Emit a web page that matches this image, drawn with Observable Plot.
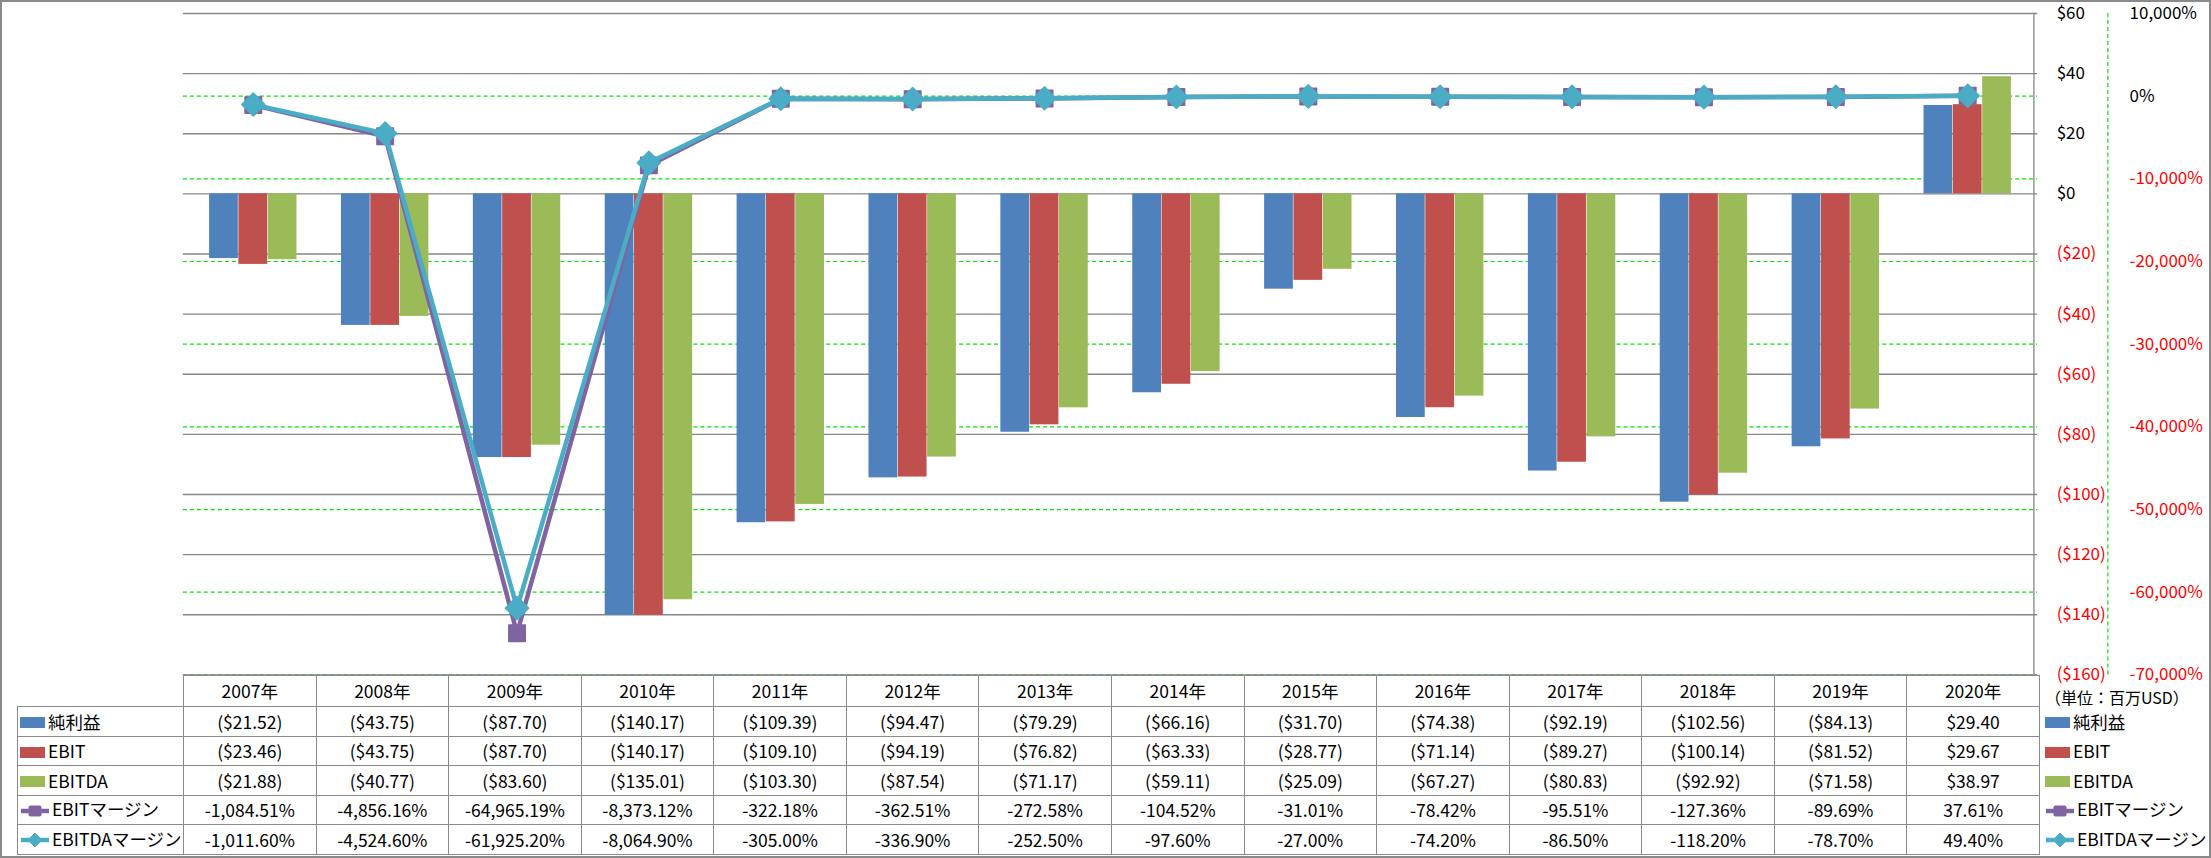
<!DOCTYPE html>
<html><head><meta charset="utf-8">
<script src="https://cdn.jsdelivr.net/npm/d3@7"></script>
<script src="https://cdn.jsdelivr.net/npm/@observablehq/plot@0.6"></script>
<style>
body{margin:0;background:#fff;font-family:"Noto Sans CJK JP","Noto Sans",sans-serif;}
#wrap{position:relative;width:2211px;height:858px;box-sizing:border-box;border:2px solid #8a8a8a;overflow:hidden;background:#fff;}
#chart{position:absolute;left:-2px;top:-2px;}
#tbl{position:absolute;left:15px;top:673px;border-collapse:collapse;table-layout:fixed;font-size:17.5px;color:#000;width:2192px;}
#tbl td{border:1px solid #8a8a8a;padding:0;text-align:center;white-space:nowrap;overflow:visible;line-height:1;}
#tbl tr.h{height:31px;}
#tbl tr.r{height:29.6px;}
#tbl td.lab{text-align:left;padding-left:2px;}
#tbl td.leg{text-align:left;padding-left:5px;border:none;}
#tbl td.corner{border-top:none;border-left:none;}
.sw{display:inline-block;width:25px;height:11px;vertical-align:middle;margin-right:3px;position:relative;top:-1px;}
.ls{display:inline-block;vertical-align:middle;margin-right:2px;position:relative;top:-1px;}
.unit{font-size:16px;position:relative;top:6px;left:0px;}
</style></head>
<body>
<div id="wrap"><div id="chart"></div><table id="tbl"></table></div>
<script>
// ---- data ----
const years = ["2007年","2008年","2009年","2010年","2011年","2012年","2013年","2014年","2015年","2016年","2017年","2018年","2019年","2020年"];
const netIncome = [-21.52,-43.75,-87.70,-140.17,-109.39,-94.47,-79.29,-66.16,-31.70,-74.38,-92.19,-102.56,-84.13,29.40];
const ebit = [-23.46,-43.75,-87.70,-140.17,-109.10,-94.19,-76.82,-63.33,-28.77,-71.14,-89.27,-100.14,-81.52,29.67];
const ebitda = [-21.88,-40.77,-83.60,-135.01,-103.30,-87.54,-71.17,-59.11,-25.09,-67.27,-80.83,-92.92,-71.58,38.97];
const ebitMargin = [-1084.51,-4856.16,-64965.19,-8373.12,-322.18,-362.51,-272.58,-104.52,-31.01,-78.42,-95.51,-127.36,-89.69,37.61];
const ebitdaMargin = [-1011.60,-4524.60,-61925.20,-8064.90,-305.00,-336.90,-252.50,-97.60,-27.00,-74.20,-86.50,-118.20,-78.70,49.40];
const seriesNames = ["純利益","EBIT","EBITDA","EBITマージン","EBITDAマージン"];
const dollarTicks = [60,40,20,0,-20,-40,-60,-80,-100,-120,-140,-160];
const pctTicks = [10000,0,-10000,-20000,-30000,-40000,-50000,-60000,-70000];
const unitLabel = "（単位：百万USD）";

// ---- styles ----
const C = {blue:"#4F81BD", red:"#C0504D", green:"#9BBB59", purple:"#8064A2", teal:"#4BACC6"};
const W = 2211, H = 858, mL = 183, mR = 172, mT = 13, mB = 183;
const bw = (W - mL - mR) / years.length;
const barW = 29.35;
const outer = (bw - 3 * barW) / 2;

const rows = years.map((y, i) => ({year: y, ni: netIncome[i], ebit: ebit[i], ebitda: ebitda[i], em: ebitMargin[i], edm: ebitdaMargin[i]}));
const pctToDollar = d3.scaleLinear().domain([-70000, 10000]).range([-160, 60]);

const loc = d3.formatLocale({decimal: ".", thousands: ",", grouping: [3], currency: ["$", ""], minus: "-"});
const fmt2 = loc.format(",.2f");
const fmtInt = loc.format(",");
const fmtDollarTick = v => v < 0 ? `($${-v})` : `$${v}`;
const fmtPctTick = v => fmtInt(v) + "%";
const fmtDollar = v => v < 0 ? `($${fmt2(-v)})` : `$${fmt2(v)}`;
const fmtPct = v => fmt2(v) + "%";

const diamond = {draw(ctx, size){ const h = Math.sqrt(size / 2); ctx.moveTo(0,-h); ctx.lineTo(h,0); ctx.lineTo(0,h); ctx.lineTo(-h,0); ctx.closePath(); }};

const barSeries = [["ni", C.blue], ["ebit", C.red], ["ebitda", C.green]];

const plot = Plot.plot({
  width: W, height: H,
  marginLeft: mL, marginRight: mR, marginTop: mT, marginBottom: mB,
  style: {fontFamily: '"Noto Sans CJK JP","Noto Sans",sans-serif', fontSize: "17px", background: "transparent", overflow: "visible"},
  x: {type: "band", domain: years, padding: 0, axis: null},
  y: {domain: [-160, 60], axis: null},
  marks: [
    Plot.ruleY(pctTicks.filter(d => d !== 10000), {y: d => pctToDollar(d), stroke: "#00e600", strokeWidth: 1.2, strokeDasharray: "4,3"}),
    Plot.ruleY(dollarTicks, {y: d => d, stroke: "#868686", strokeWidth: 1.3}),
    ...barSeries.map(([k, col], i) => Plot.barY(rows, {x: "year", y: k, fill: col, insetLeft: outer + i * barW, insetRight: outer + (2 - i) * barW})),
    // right $ axis line
    Plot.ruleX([years[years.length - 1]], {dx: bw / 2, y1: -160, y2: 60, stroke: "#868686", strokeWidth: 1.3}),
    // secondary % axis line and its ticks
    Plot.ruleX([years[years.length - 1]], {dx: bw / 2 + 74, y1: pctToDollar(-70000), y2: pctToDollar(10000), stroke: "#00e600", strokeWidth: 1.2, strokeDasharray: "4,3"}),
    Plot.tickY(pctTicks, {x: years[years.length - 1], y: d => pctToDollar(d), dx: bw / 2 + 74, insetLeft: bw / 2, insetRight: bw / 2 - 4, stroke: "#00e600", strokeWidth: 1.2}),
    Plot.line(rows, {x: "year", y: d => pctToDollar(d.em), stroke: C.purple, strokeWidth: 4.5}),
    Plot.dot(rows, {x: "year", y: d => pctToDollar(d.em), symbol: "square", r: 9.3, fill: C.purple, stroke: C.purple, strokeWidth: 1.5, strokeLinejoin: "round"}),
    Plot.line(rows, {x: "year", y: d => pctToDollar(d.edm), stroke: C.teal, strokeWidth: 4.5}),
    Plot.dot(rows, {x: "year", y: d => pctToDollar(d.edm), symbol: diamond, r: 9.2, fill: C.teal, stroke: C.teal, strokeWidth: 1.5, strokeLinejoin: "round"}),
    // $ axis labels
    Plot.text(dollarTicks.filter(d => d >= 0), {y: d => d, text: fmtDollarTick, frameAnchor: "right", dx: 19, textAnchor: "start", fill: "#000", fontSize: 17}),
    Plot.text(dollarTicks.filter(d => d < 0), {y: d => d, text: fmtDollarTick, frameAnchor: "right", dx: 19, textAnchor: "start", fill: "#ff0000", fontSize: 17}),
    // % axis labels
    Plot.text(pctTicks.filter(d => d >= 0), {y: d => pctToDollar(d), text: fmtPctTick, frameAnchor: "right", dx: 92, textAnchor: "start", fill: "#000", fontSize: 17}),
    Plot.text(pctTicks.filter(d => d < 0), {y: d => pctToDollar(d), text: fmtPctTick, frameAnchor: "right", dx: 92, textAnchor: "start", fill: "#ff0000", fontSize: 17})
  ]
});
document.getElementById("chart").appendChild(plot);

// ---- data table ----
const barIcon = col => `<span class="sw" style="background:${col}"></span>`;
const sqIcon = `<svg class="ls" width="30" height="16"><line x1="1" y1="8" x2="29" y2="8" stroke="${C.purple}" stroke-width="4.5"/><rect x="8.5" y="2.5" width="13" height="11" rx="2" fill="${C.purple}"/></svg>`;
const dmIcon = `<svg class="ls" width="30" height="16"><line x1="1" y1="8" x2="29" y2="8" stroke="${C.teal}" stroke-width="4.5"/><path d="M15,1 L22,8 L15,15 L8,8Z" fill="${C.teal}" stroke="${C.teal}" stroke-linejoin="round"/></svg>`;
const icons = [barIcon(C.blue), barIcon(C.red), barIcon(C.green), sqIcon, dmIcon];
const vals = [netIncome.map(fmtDollar), ebit.map(fmtDollar), ebitda.map(fmtDollar), ebitMargin.map(fmtPct), ebitdaMargin.map(fmtPct)];

let html = `<colgroup><col style="width:166px">${years.map(() => `<col style="width:${bw}px">`).join("")}<col style="width:170px"></colgroup>`;
html += `<tr class="h"><td class="corner"></td>${years.map(y => `<td>${y}</td>`).join("")}<td class="leg"><span class="unit">${unitLabel}</span></td></tr>`;
seriesNames.forEach((n, i) => {
  html += `<tr class="r"><td class="lab">${icons[i]}${n}</td>${vals[i].map(v => `<td>${v}</td>`).join("")}<td class="leg">${icons[i]}${n}</td></tr>`;
});
document.getElementById("tbl").innerHTML = html;
</script>
</body></html>
